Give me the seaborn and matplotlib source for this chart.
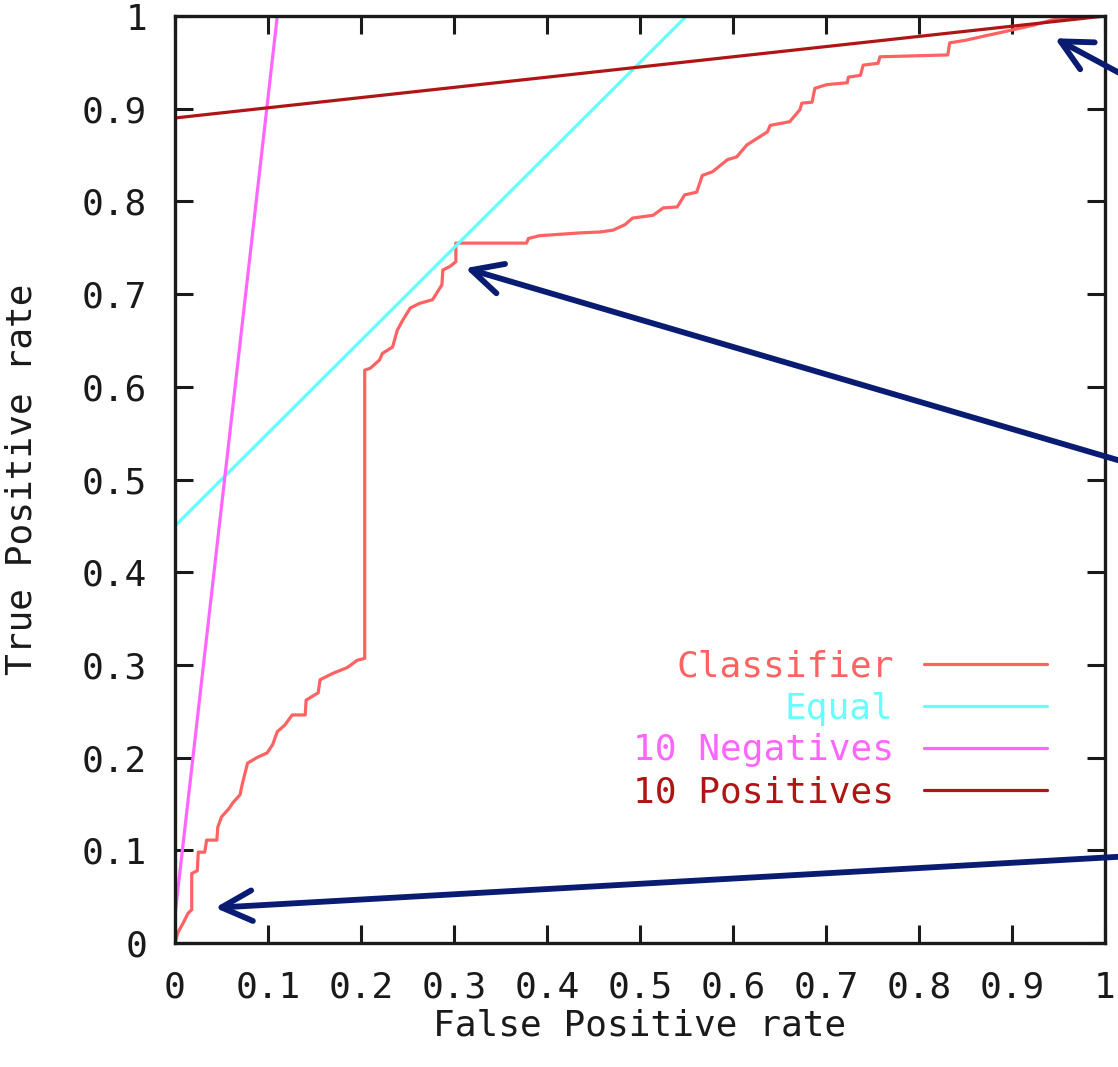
import matplotlib
matplotlib.use("Agg")
import matplotlib.pyplot as plt
import seaborn as sns
import pandas as pd
import numpy as np

# ---- data ----
classifier_fpr = [0, 0.003, 0.009, 0.014, 0.018, 0.018, 0.024, 0.025, 0.032, 0.034, 0.045, 0.046,
                  0.05, 0.058, 0.062, 0.07, 0.072, 0.078, 0.088, 0.099, 0.105, 0.11, 0.118, 0.126,
                  0.14, 0.141, 0.154, 0.156, 0.17, 0.185, 0.196, 0.204, 0.204, 0.21, 0.22, 0.223,
                  0.234, 0.239, 0.245, 0.253, 0.263, 0.277, 0.287, 0.288, 0.296, 0.302, 0.302,
                  0.378, 0.38, 0.392, 0.435, 0.457, 0.471, 0.484, 0.492, 0.514, 0.525, 0.540,
                  0.548, 0.561, 0.567, 0.578, 0.594, 0.604, 0.615, 0.626, 0.637, 0.640, 0.661,
                  0.672, 0.674, 0.685, 0.688, 0.701, 0.723, 0.724, 0.737, 0.740, 0.756, 0.758,
                  0.831, 0.833, 0.851, 0.873, 0.887, 0.909, 0.923, 0.944, 0.973, 1.0]
classifier_tpr = [0, 0.011, 0.022, 0.032, 0.036, 0.075, 0.078, 0.098, 0.098, 0.111, 0.111, 0.125,
                  0.136, 0.145, 0.151, 0.16, 0.17, 0.194, 0.2, 0.205, 0.214, 0.228, 0.235, 0.246,
                  0.246, 0.262, 0.27, 0.284, 0.291, 0.297, 0.305, 0.307, 0.618, 0.62, 0.629, 0.636,
                  0.643, 0.661, 0.672, 0.685, 0.69, 0.694, 0.71, 0.726, 0.73, 0.735, 0.755,
                  0.755, 0.76, 0.763, 0.766, 0.767, 0.769, 0.775, 0.782, 0.785, 0.793, 0.794,
                  0.807, 0.810, 0.828, 0.832, 0.845, 0.848, 0.861, 0.868, 0.875, 0.882, 0.886,
                  0.899, 0.906, 0.907, 0.922, 0.926, 0.928, 0.934, 0.936, 0.947, 0.949, 0.956,
                  0.958, 0.971, 0.974, 0.979, 0.982, 0.987, 0.99, 0.996, 0.999, 1.0]
equal_fpr = [0.0, 0.55]
equal_tpr = [0.45, 1.0]
neg_fpr = [0.0, 0.11]
neg_tpr = [0.03, 1.0]
pos_fpr = [0.0, 1.0]
pos_tpr = [0.89, 1.0]

series_names = ["Classifier", "Equal", "10 Negatives", "10 Positives"]
series_colors = ["#ff6262", "#66ffff", "#ff66ff", "#b01515"]

# arrows: (tip_x, tip_y) and (tail_x, tail_y) in data coords
arrow_tips = [(0.946, 0.976), (0.312, 0.728), (0.043, 0.038)]
arrow_tails = [(1.2, 0.839), (1.2, 0.466), (1.2, 0.1035)]
arrow_color = "#0a1c72"

tick_values = [0, 0.1, 0.2, 0.3, 0.4, 0.5, 0.6, 0.7, 0.8, 0.9, 1]
tick_labels = ["0", "0.1", "0.2", "0.3", "0.4", "0.5", "0.6", "0.7", "0.8", "0.9", "1"]

# ---- build data frame ----
frames = []
for name, xs, ys in zip(series_names,
                        [classifier_fpr, equal_fpr, neg_fpr, pos_fpr],
                        [classifier_tpr, equal_tpr, neg_tpr, pos_tpr]):
    frames.append(pd.DataFrame({"fpr": xs, "tpr": ys, "series": name, "order": range(len(xs))}))
df = pd.concat(frames, ignore_index=True)

sns.set_style("ticks")
plt.rcParams["font.family"] = ["DejaVu Sans Mono"]

fig = plt.figure(figsize=(11.18, 10.67), dpi=100)
ax = fig.add_axes([175 / 1118, 1 - 943 / 1067, (1105 - 175) / 1118, (943 - 16) / 1067])

sns.lineplot(data=df, x="fpr", y="tpr", hue="series", hue_order=series_names,
             palette=series_colors, sort=False, estimator=None, units="series",
             lw=2.3, ax=ax, legend=False)

for name, line in zip(series_names, ax.lines):
    line.set_label(name)

ax.set_xlim(0, 1)
ax.set_ylim(0, 1)
ax.set_xticks(tick_values)
ax.set_xticklabels(tick_labels)
ax.set_yticks(tick_values)
ax.set_yticklabels(tick_labels)

fs = 26
ax.tick_params(axis="both", direction="in", length=13, width=2.2, labelsize=fs,
               top=True, right=True, color="#1a1a1a", labelcolor="#1a1a1a")
ax.tick_params(axis="x", pad=20)
ax.tick_params(axis="y", pad=20)
for s in ax.spines.values():
    s.set_linewidth(2.4)
    s.set_color("#1a1a1a")

ax.set_xlabel("False Positive rate", fontsize=fs, labelpad=3, color="#1a1a1a")
ax.set_ylabel("True Positive rate", fontsize=fs, labelpad=31, color="#1a1a1a")

leg = ax.legend(handles=ax.lines[:4], loc="center right", markerfirst=False, frameon=False,
                fontsize=fs, labelcolor="linecolor", handlelength=3.4, handletextpad=0.85,
                labelspacing=0.22, borderpad=0, borderaxespad=0,
                bbox_to_anchor=(1047 / 1118, 1 - 729.5 / 1067), bbox_transform=fig.transFigure)

for tip, tail in zip(arrow_tips, arrow_tails):
    ax.annotate("", xy=tip, xytext=tail, xycoords="data", textcoords="data",
                annotation_clip=False,
                arrowprops=dict(arrowstyle="->,head_length=1.1,head_width=0.55",
                                mutation_scale=20, lw=4.2, color=arrow_color,
                                shrinkA=0, shrinkB=0))

fig.savefig("out.png", dpi=100)
